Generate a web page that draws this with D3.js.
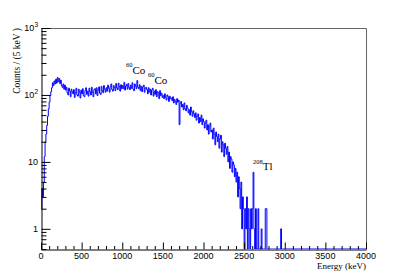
<!DOCTYPE html>
<html>
<head>
<meta charset="utf-8">
<script src="https://cdn.jsdelivr.net/npm/d3@7"></script>
<style>
  body { margin: 0; background: #fff; }
  svg { display: block; }
  text { fill: #000; }
</style>
</head>
<body>
<div class="container"></div>
<script>
// bin width of the histogram (keV), first bin starts at 0
const binWidth = 10;
// counts / (5 keV), one value per 10 keV bin (rows of 100 keV)
const counts = [
  2, 4, 3, 5, 12, 20, 26, 35, 48, 62,
  78, 98, 112, 128, 152, 138, 162, 146, 172, 150,
  182, 158, 176, 148, 166, 138, 130, 146, 122, 140,
  118, 130, 108, 100, 126, 114, 94, 122, 112, 104,
  120, 92, 108, 126, 100, 96, 122, 110, 90, 118,
  104, 124, 98, 94, 116, 128, 102, 114, 96, 126,
  112, 100, 130, 110, 94, 120, 124, 104, 128, 98,
  118, 132, 106, 102, 134, 116, 108, 138, 122, 110,
  128, 114, 140, 126, 110, 134, 146, 120, 114, 138,
  130, 116, 148, 128, 120, 150, 134, 114, 142, 124,
  138, 124, 154, 118, 136, 144, 122, 148, 130, 120,
  140, 126, 152, 122, 116, 146, 136, 124, 164, 130,
  124, 142, 116, 134, 112, 132, 140, 110, 126, 130,
  120, 104, 128, 110, 122, 100, 118, 126, 96, 114,
  102, 120, 94, 112, 108, 88, 116, 98, 106, 92,
  98, 88, 104, 92, 84, 100, 94, 80, 96, 88,
  90, 82, 94, 76, 86, 80, 72, 88, 78, 84,
  36, 74, 80, 66, 72, 60, 76, 62, 58, 70,
  64, 54, 60, 50, 66, 56, 48, 58, 52, 46,
  54, 42, 48, 52, 38, 46, 40, 50, 36, 44,
  40, 32, 38, 42, 30, 36, 26, 34, 38, 28,
  30, 22, 32, 26, 18, 28, 24, 20, 26, 16,
  22, 25, 14, 20, 18, 12, 19, 16, 13, 17,
  10, 14, 8, 12, 11, 7, 10, 9, 6, 8,
  5, 7, 3, 6, 4, 2, 5, 1, 3, 2,
  0, 2, 1, 3, 0, 2, 1, 0, 2, 1,
  2, 7, 1, 0, 2, 0, 0, 2, 0, 0,
  0, 1, 0, 0, 0, 0, 2, 2, 0, 0,
  0, 0, 0, 0, 0, 0, 0, 0, 0, 0,
  0, 0, 0, 0, 0, 1, 0, 0, 0, 0
];

const xTicks = [0, 500, 1000, 1500, 2000, 2500, 3000, 3500, 4000];
const yDecades = [1, 10, 100, 1000];
const yLabels = [["1", ""], ["10", ""], ["10", "2"], ["10", "3"]];

// isotope annotations: superscript, symbol, anchor energy (keV), anchor counts
const notes = [
  { sup: "60", sym: "Co", e: 1046, c: 208 },
  { sup: "60", sym: "Co", e: 1317, c: 146 },
  { sup: "208", sym: "Tl", e: 2610, c: 7.5 }
];

const w = 407, h = 277;
const mLeft = 41, mRight = 366, mTop = 28, mBottom = 249;

const svg = d3.select(".container").append("svg")
  .attr("width", w).attr("height", h);

const x = d3.scaleLinear().domain([0, 4000]).range([mLeft, mRight]);
const y = d3.scaleLog().domain([0.5, 1000]).range([mBottom, mTop]);
const yv = v => v > 0 ? y(v) : mBottom;

svg.append("clipPath").attr("id", "clip")
  .append("rect").attr("x", mLeft).attr("y", mTop)
  .attr("width", mRight - mLeft).attr("height", mBottom - mTop);

/* histogram as a step line */
const pts = [];
counts.forEach((c, i) => {
  pts.push([i * binWidth, c]);
  pts.push([(i + 1) * binWidth, c]);
});
pts.push([4000, 0]);

svg.append("path")
  .datum(pts)
  .attr("clip-path", "url(#clip)")
  .attr("fill", "none")
  .attr("stroke", "#0000ff")
  .attr("stroke-width", 1)
  .attr("d", d3.line().x(d => x(d[0])).y(d => yv(d[1])));

/* frame */
svg.append("path")
  .attr("fill", "none").attr("stroke", "#666").attr("stroke-width", 1)
  .attr("d", `M${mLeft},${mTop + 0.5}H${mRight + 0.5}V${mBottom}`);

/* x axis, ticks pointing up */
const xAxis = d3.axisTop(x).tickValues(d3.range(0, 4001, 100))
  .tickSize(3.5).tickFormat("").tickSizeOuter(0);
const gx = svg.append("g").attr("transform", `translate(0,${mBottom + 0.5})`).call(xAxis);
gx.selectAll(".tick line").filter(d => d % 500 === 0).attr("y2", -7);
gx.select(".domain").attr("stroke", "#000");

svg.selectAll(".xlab").data(xTicks).enter().append("text")
  .attr("class", "xlab")
  .attr("x", d => x(d)).attr("y", 258.5)
  .attr("text-anchor", "middle")
  .style("font", "9px 'Liberation Sans', Arial, sans-serif")
  .text(d => d);

/* y axis, ticks pointing right */
const minor = [];
[0.1, 1, 10, 100].forEach(dec => {
  for (let k = 1; k < 10; k++) {
    const v = dec * k;
    if (v >= 0.5 && v <= 1000) minor.push(v);
  }
});
minor.push(1000);
const yAxis = d3.axisRight(y).tickValues(minor).tickSize(5).tickFormat("").tickSizeOuter(0);
const gy = svg.append("g").attr("transform", `translate(${mLeft + 0.5},0)`).call(yAxis);
gy.selectAll(".tick line").filter(d => yDecades.some(v => Math.abs(v - d) < 1e-9)).attr("x2", 9);
gy.select(".domain").attr("stroke", "#000");

yDecades.forEach((v, i) => {
  const t = svg.append("text")
    .attr("x", 38).attr("y", y(v) + 3.3)
    .attr("text-anchor", "end")
    .style("font", "9px 'Liberation Sans', Arial, sans-serif");
  t.append("tspan").text(yLabels[i][0]);
  if (yLabels[i][1]) {
    t.append("tspan").attr("dy", -4).style("font-size", "6.5px").text(yLabels[i][1]);
  }
});

/* axis titles */
svg.append("text")
  .attr("transform", `translate(19.5,${mTop}) rotate(-90)`)
  .attr("text-anchor", "end")
  .style("font", "9.5px 'Liberation Serif', 'Times New Roman', serif")
  .text("Counts / (5 keV )");

svg.append("text")
  .attr("x", mRight).attr("y", 269)
  .attr("text-anchor", "end")
  .style("font", "9px 'Liberation Serif', 'Times New Roman', serif")
  .text("Energy (keV)");

/* isotope labels */
notes.forEach(n => {
  const t = svg.append("text")
    .attr("x", x(n.e)).attr("y", y(n.c))
    .style("font", "11px 'Liberation Serif', 'Times New Roman', serif");
  t.append("tspan").attr("dy", -6.5).style("font-size", "6.5px").text(n.sup);
  t.append("tspan").attr("dy", 6.5).text(n.sym);
});
</script>
</body>
</html>
